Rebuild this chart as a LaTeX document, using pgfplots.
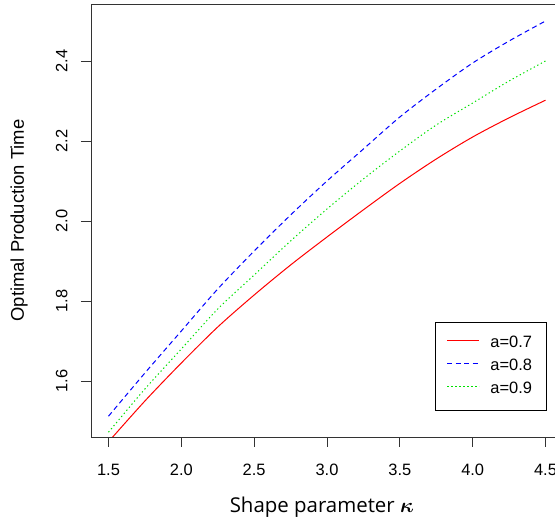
\documentclass[border=0pt]{standalone}
\usepackage{fontspec}
\setmainfont{Liberation Sans}
\newfontfamily\labfont{Open Sans}
\usepackage{amsmath,amsbsy}
\usepackage{pgfplots}
\pgfplotsset{compat=1.18}
\definecolor{rred}{RGB}{255,0,0}
\definecolor{rblue}{RGB}{0,0,255}
\definecolor{rgreen}{RGB}{0,225,0}
\tikzset{
  sred/.style={draw=rred, line width=1bp},
  sblue/.style={draw=rblue, line width=1bp, dash pattern=on 5bp off 3.5bp},
  sgreen/.style={draw=rgreen, line width=1bp, dash pattern=on 1.3bp off 2.7bp},
}

\begin{document}
\begin{tikzpicture}
\begin{axis}[
  at={(91bp,95bp)}, anchor=south west,
  scale only axis,
  width=472bp, height=433bp,
  xmin=1.38, xmax=4.62, ymin=1.46, ymax=2.5425,
  xtick={1.5,2.0,...,4.5},
  ytick={1.6,1.8,2.0,2.2,2.4},
  xtick pos=bottom, ytick pos=left,
  tick align=outside,
  major tick length=10bp,
  axis line style={black!80, line width=0.8bp},
  tick style={black!80, line width=0.8bp},
  /pgf/number format/.cd, fixed, fixed zerofill, precision=1, assume math mode=true,
  /pgfplots/.cd,
  ticklabel style={font=\fontsize{16.5}{19}\selectfont},
  yticklabel style={rotate=90, anchor=south, yshift=10bp},
  xticklabel style={anchor=north, yshift=-14bp},
  every axis y label/.style={at={(rel axis cs:0,0.5)}, xshift=-72bp, rotate=90, anchor=center,
    font=\fontsize{18.5}{21}\selectfont},
  every axis x label/.style={at={(rel axis cs:0.489,0)}, yshift=-70bp, anchor=center,
    font=\labfont\fontsize{20.5}{24}\selectfont},
  ylabel={Optimal Production Time},
  xlabel={Shape parameter $\boldsymbol{\kappa}$},
  legend style={at={(rel axis cs:0.966,0.265)}, anchor=north east, line width=0.8bp,
    font=\fontsize{16.5}{19}\selectfont, inner xsep=11bp, inner ysep=13bp,
    row sep=7bp, column sep=7bp,
    nodes={inner xsep=3.5bp, inner ysep=0bp, text height=12bp, text depth=4bp}},
  legend cell align=left,
]
\addplot[sred, smooth, forget plot] coordinates {
  (1.50,1.448)(1.75,1.550)(2.00,1.645)(2.25,1.735)(2.50,1.815)(2.75,1.890)(3.00,1.960)
  (3.25,2.028)(3.50,2.094)(3.75,2.155)(4.00,2.210)(4.25,2.258)(4.50,2.302)};
\addplot[sblue, smooth, forget plot] coordinates {
  (1.50,1.512)(1.75,1.620)(2.00,1.725)(2.25,1.830)(2.50,1.925)(2.75,2.015)(3.00,2.100)
  (3.25,2.180)(3.50,2.260)(3.75,2.330)(4.00,2.395)(4.25,2.450)(4.50,2.500)};
\addplot[sgreen, smooth, forget plot] coordinates {
  (1.50,1.472)(1.75,1.580)(2.00,1.680)(2.25,1.780)(2.50,1.865)(2.75,1.950)(3.00,2.030)
  (3.25,2.105)(3.50,2.175)(3.75,2.240)(4.00,2.295)(4.25,2.350)(4.50,2.400)};
\addlegendimage{legend image code/.code={\draw[sred, line width=1.5bp] (0bp,3bp) -- (32bp,3bp);}}
\addlegendentry{a=0.7}
\addlegendimage{legend image code/.code={\draw[sblue, line width=1.5bp] (0bp,3bp) -- (32bp,3bp);}}
\addlegendentry{a=0.8}
\addlegendimage{legend image code/.code={\draw[sgreen, line width=1.5bp] (0bp,3bp) -- (32bp,3bp);}}
\addlegendentry{a=0.9}
\end{axis}
\pgfresetboundingbox
\path[use as bounding box] (0,0) rectangle (555bp,532bp);
\end{tikzpicture}
\end{document}
